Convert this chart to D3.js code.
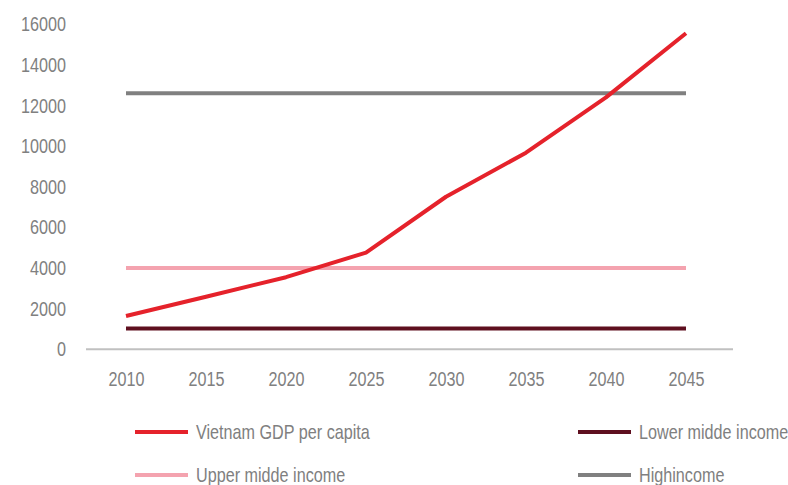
<!DOCTYPE html>
<html>
<head>
<meta charset="utf-8">
<script src="https://cdn.jsdelivr.net/npm/d3@7/dist/d3.min.js"></script>
<style>
  html, body { margin: 0; padding: 0; background: #fff; }
  svg { display: block; }
  text { font-family: "Liberation Sans", Arial, sans-serif; fill: #808080; }
</style>
</head>
<body>
<svg id="chart" width="788" height="485"></svg>
<script>
// Years on the category axis
const years = ["2010", "2015", "2020", "2025", "2030", "2035", "2040", "2045"];
// Projected GDP per capita (USD)
const vietnamGdp = [1640, 2590, 3550, 4760, 7510, 9680, 12400, 15560];
// Income-group thresholds (USD), flat across the period
const lowerMiddle = [1030, 1030, 1030, 1030, 1030, 1030, 1030, 1030];
const upperMiddle = [4000, 4000, 4000, 4000, 4000, 4000, 4000, 4000];
const highIncome = [12600, 12600, 12600, 12600, 12600, 12600, 12600, 12600];
// Y-axis ticks
const yTicks = [0, 2000, 4000, 6000, 8000, 10000, 12000, 14000, 16000];

const series = [
  { name: "Vietnam GDP per capita", values: vietnamGdp, color: "#e5222b" },
  { name: "Lower midde income", values: lowerMiddle, color: "#5e0f1f" },
  { name: "Upper midde income", values: upperMiddle, color: "#f4a3af" },
  { name: "Highincome", values: highIncome, color: "#808080" }
];

// Condensed look: horizontal squeeze of the regular sans face
const SQUEEZE = 0.83;
const FONT_SIZE = "19.5px";

const svg = d3.select("#chart");

const x = d3.scalePoint().domain(years).range([126, 686]);
const y = d3.scaleLinear().domain([0, 16000]).range([349.3, 24.3]);

// Y tick labels (no gridlines, no tick marks)
svg.append("g")
  .selectAll("text")
  .data(yTicks)
  .join("text")
  .attr("transform", d => `translate(66, ${y(d)}) scale(${SQUEEZE}, 1)`)
  .attr("dy", "0.36em")
  .attr("text-anchor", "end")
  .style("font-size", FONT_SIZE)
  .text(d => d);

// Category axis baseline
svg.append("line")
  .attr("x1", x(years[0]) - 40)
  .attr("x2", x(years[years.length - 1]) + 47)
  .attr("y1", y(0))
  .attr("y2", y(0))
  .attr("stroke", "#c0c0c0")
  .attr("stroke-width", 2);

// Year labels
const xAxis = d3.axisBottom(x).tickSize(0).tickPadding(0);
const gx = svg.append("g")
  .attr("transform", `translate(0, ${y(0) + 30})`)
  .call(xAxis);
gx.select(".domain").remove();
gx.selectAll("text")
  .attr("y", 0)
  .attr("dy", "0.36em")
  .attr("transform", `scale(${SQUEEZE}, 1)`)
  .style("font-size", FONT_SIZE)
  .attr("font-family", null)
  .attr("fill", null);

// Series lines; threshold lines drawn first, GDP on top
const line = d3.line()
  .x((d, i) => x(years[i]))
  .y(d => y(d));

const drawOrder = [series[1], series[2], series[3], series[0]];
svg.append("g")
  .selectAll("path")
  .data(drawOrder)
  .join("path")
  .attr("d", d => line(d.values))
  .attr("fill", "none")
  .attr("stroke", d => d.color)
  .attr("stroke-width", 4)
  .attr("stroke-linejoin", "round");

// Legend: two rows, two columns
const legendPos = [
  { x: 135, y: 432 },
  { x: 578, y: 432 },
  { x: 135, y: 475 },
  { x: 578, y: 475 }
];
const legend = svg.append("g")
  .selectAll("g")
  .data(series)
  .join("g")
  .attr("transform", (d, i) => `translate(${legendPos[i].x}, ${legendPos[i].y})`);

legend.append("line")
  .attr("x1", 0)
  .attr("x2", 53)
  .attr("y1", 0)
  .attr("y2", 0)
  .attr("stroke", d => d.color)
  .attr("stroke-width", 4);

legend.append("text")
  .attr("transform", `translate(61, 0) scale(${SQUEEZE}, 1)`)
  .attr("dy", "0.36em")
  .style("font-size", FONT_SIZE)
  .text(d => d.name);
</script>
</body>
</html>
